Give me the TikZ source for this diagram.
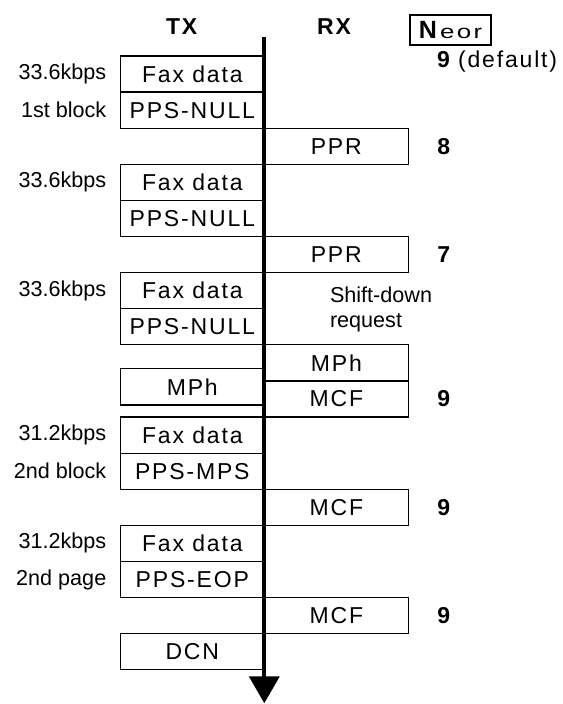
\documentclass[tikz,border=0pt]{standalone}
\usepackage{fontspec}
\setmainfont{Liberation Sans}
\newfontfamily\boxfont[LetterSpace=8]{Liberation Sans}
\newfontfamily\eorfont[LetterSpace=12,FakeStretch=1.35]{Liberation Sans}
\usetikzlibrary{positioning,arrows.meta}

\begin{document}
\begin{tikzpicture}[
        x=0.5pt, y=-0.5pt,
        node distance=0pt and 0pt,
        every node/.style={inner sep=0pt, outer sep=0pt},
        msg/.style={draw, line width=0.6pt, minimum width=72pt, minimum height=18.05pt, font=\boxfont\fontsize{11.5}{13}\selectfont},
        header/.style={font=\boxfont\fontsize{11.5}{13}\selectfont\bfseries},
        rate/.style={font=\fontsize{10.8}{12.5}\selectfont},
        count/.style={font=\boxfont\fontsize{11.5}{13}\selectfont\bfseries},
        note/.style={font=\fontsize{10.8}{12.5}\selectfont, align=left},
        axis/.style={line width=2pt, -{Triangle[width=15pt,length=13.5pt]}}
    ]
        \useasboundingbox (0,0) rectangle (562,704);

        % headers
        \node[header] (tx) at (181.7,27) {TX};
        \node[header] (rx) at (334,27) {RX};
        \node[draw, line width=0.6pt, minimum width=40.5pt, minimum height=15pt] (neor) at (450.5,30)
            {{\bfseries\fontsize{12.5}{13}\selectfont N}\,{\eorfont\fontsize{9.6}{11}\selectfont eor}};

        % first block
        \node[msg, anchor=north east] (fax1) at (264.3,56) {Fax data};
        \node[msg, below=of fax1] (null1) {PPS-NULL};
        \node[msg, below right=of null1] (ppr1) {PPR};

        % repeated block
        \node[msg, below left=of ppr1] (fax2) {Fax data};
        \node[msg, below=of fax2] (null2) {PPS-NULL};
        \node[msg, below right=of null2] (ppr2) {PPR};

        % shift-down
        \node[msg, below left=of ppr2] (fax3) {Fax data};
        \node[msg, below=of fax3] (null3) {PPS-NULL};
        \node[msg, below right=of null3] (mphrx) {MPh};
        \node[msg, below=of mphrx] (mcf1) {MCF};
        \node[msg, below=12pt of null3] (mphtx) {MPh};

        % second block
        \node[msg, below left=of mcf1] (fax4) {Fax data};
        \node[msg, below=of fax4] (mps) {PPS-MPS};
        \node[msg, below right=of mps] (mcf2) {MCF};

        % second page
        \node[msg, below left=of mcf2] (fax5) {Fax data};
        \node[msg, below=of fax5] (eop) {PPS-EOP};
        \node[msg, below right=of eop] (mcf3) {MCF};
        \node[msg, below left=of mcf3] (dcn) {DCN};

        % rates
        \node[rate, left=7pt of fax1] (rate1) {33.6kbps};
        \node[rate, left=7pt of null1] (blk1) {1st block};
        \node[rate, left=7pt of fax2] (rate2) {33.6kbps};
        \node[rate, left=7pt of fax3] (rate3) {33.6kbps};
        \node[rate, left=7pt of fax4] (rate4) {31.2kbps};
        \node[rate, left=7pt of mps] (blk2) {2nd block};
        \node[rate, left=7pt of fax5] (rate5) {31.2kbps};
        \node[rate, left=7pt of eop] (page2) {2nd page};

        % N_eor values
        \node[count, anchor=west] (cnt0) at (437,62) {9 {\mdseries(default)}};
        \node[count, right=14.5pt of ppr1] (cnt1) {8};
        \node[count, right=14.5pt of ppr2] (cnt2) {7};
        \node[count, right=14.5pt of mcf1] (cnt3) {9};
        \node[count, right=14.5pt of mcf2] (cnt4) {9};
        \node[count, right=14.5pt of mcf3] (cnt5) {9};

        \node[note, anchor=west] (shift) at (330,309) {Shift-down\\request};

        % time axis
        \coordinate (axtop) at (264.3,36.7);
        \coordinate (axbot) at (264.3,703.3);
        \draw[axis] (axtop) -- (axbot);
\end{tikzpicture}
\end{document}
